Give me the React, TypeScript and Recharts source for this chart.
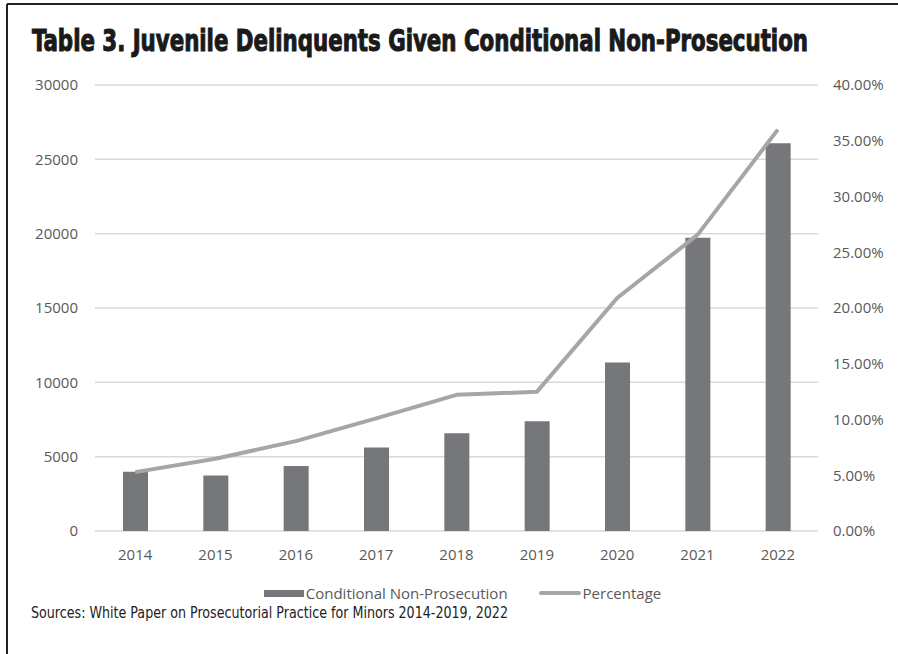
import React from 'react';
import {
  ComposedChart,
  Bar,
  Line,
  XAxis,
  YAxis,
  CartesianGrid,
  Legend
} from 'recharts';

// values
const years = ['2014', '2015', '2016', '2017', '2018', '2019', '2020', '2021', '2022'];
const nonProsecution = [3980, 3740, 4380, 5620, 6580, 7380, 11340, 19720, 26080];
const percentage = [5.28, 6.48, 8.06, 10.1, 12.21, 12.48, 20.9, 26.56, 36.0];
const countTicks = [0, 5000, 10000, 15000, 20000, 25000, 30000];
const pctTicks = [0, 5, 10, 15, 20, 25, 30, 35, 40];

const data = years.map((year, i) => ({
  year,
  count: nonProsecution[i],
  pct: percentage[i]
}));

const tickStyle = { fill: '#595959', fontSize: 15, fontFamily: '"Open Sans", sans-serif' };

// legend drawn from the payload recharts hands us
const LegendContent = ({ payload }: any) => (
  <div
    style={{
      display: 'flex',
      justifyContent: 'center',
      alignItems: 'center',
      height: 16,
      lineHeight: '16px',
      paddingLeft: 12,
      fontFamily: '"Open Sans", sans-serif',
      fontSize: 15,
      color: '#595959'
    }}
  >
    {(payload || []).map((entry: any, i: number) => (
      <div key={entry.value} style={{ display: 'flex', alignItems: 'center', marginLeft: i > 0 ? 31 : 0 }}>
        {entry.type === 'line' ? (
          <span style={{ display: 'inline-block', width: 42, height: 4, borderRadius: 2, background: entry.color }} />
        ) : (
          <span style={{ display: 'inline-block', width: 40, height: 7, background: entry.color }} />
        )}
        <span style={{ marginLeft: 2 }}>{entry.value}</span>
      </div>
    ))}
  </div>
);

export default function App() {
  return (
    <div style={{ position: 'absolute', left: 0, top: 0, width: 898, height: 654, background: '#fff' }}>
      {/* frame, title and source note */}
      <svg width={898} height={654} style={{ position: 'absolute', left: 0, top: 0 }}>
        <line x1={7} y1={4} x2={898} y2={4} stroke="#222" strokeWidth={2} />
        <line x1={7} y1={4} x2={7} y2={654} stroke="#222" strokeWidth={2} />
        <text
          transform="translate(32,51) scale(1,1.15)"
          x={0}
          y={0}
          textLength={776}
          lengthAdjust="spacingAndGlyphs"
          fontFamily="'DejaVu Sans Condensed', 'Liberation Sans Narrow', sans-serif"
          fontWeight="bold"
          fontSize={26}
          fill="#1a1a1a"
          stroke="#1a1a1a"
          strokeWidth={0.9}
        >
          Table 3. Juvenile Delinquents Given Conditional Non-Prosecution
        </text>
        <text
          transform="translate(31,618) scale(1,1.1)"
          x={0}
          y={0}
          textLength={477}
          lengthAdjust="spacingAndGlyphs"
          fontFamily="'DejaVu Sans Condensed', 'Liberation Sans Narrow', sans-serif"
          fontSize={14}
          fill="#222"
        >
          Sources: White Paper on Prosecutorial Practice for Minors 2014-2019, 2022
        </text>
      </svg>
      <div style={{ position: 'absolute', left: 0, top: 0 }}>
        <ComposedChart
          width={898}
          height={654}
          data={data}
          margin={{ top: 85, right: 20, left: 35, bottom: 53 }}
        >
          <CartesianGrid yAxisId="left" vertical={false} stroke="#d9d9d9" strokeWidth={1.5} />
          <XAxis
            dataKey="year"
            height={54}
            axisLine={false}
            tickLine={false}
            tickSize={0}
            tickMargin={18}
            tick={tickStyle}
          />
          <YAxis
            yAxisId="left"
            width={60}
            domain={[0, 30000]}
            ticks={countTicks}
            axisLine={false}
            tickLine={false}
            tickSize={0}
            tickMargin={17}
            tick={tickStyle}
          />
          <YAxis
            yAxisId="right"
            orientation="right"
            width={60}
            domain={[0, 40]}
            ticks={pctTicks}
            axisLine={false}
            tickLine={false}
            tickSize={0}
            tickMargin={15}
            tick={{ ...tickStyle, textAnchor: 'start' }}
            tickFormatter={(v) => `${v.toFixed(2)}%`}
          />
          <Legend verticalAlign="bottom" height={16} content={<LegendContent />} />
          <Bar
            yAxisId="left"
            dataKey="count"
            name="Conditional Non-Prosecution"
            fill="#76777b"
            barSize={25}
            isAnimationActive={false}
          />
          <Line
            yAxisId="right"
            type="linear"
            dataKey="pct"
            name="Percentage"
            stroke="#a6a6a6"
            strokeWidth={4}
            strokeLinejoin="round"
            dot={false}
            activeDot={false}
            legendType="line"
            isAnimationActive={false}
          />
        </ComposedChart>
      </div>
    </div>
  );
}
